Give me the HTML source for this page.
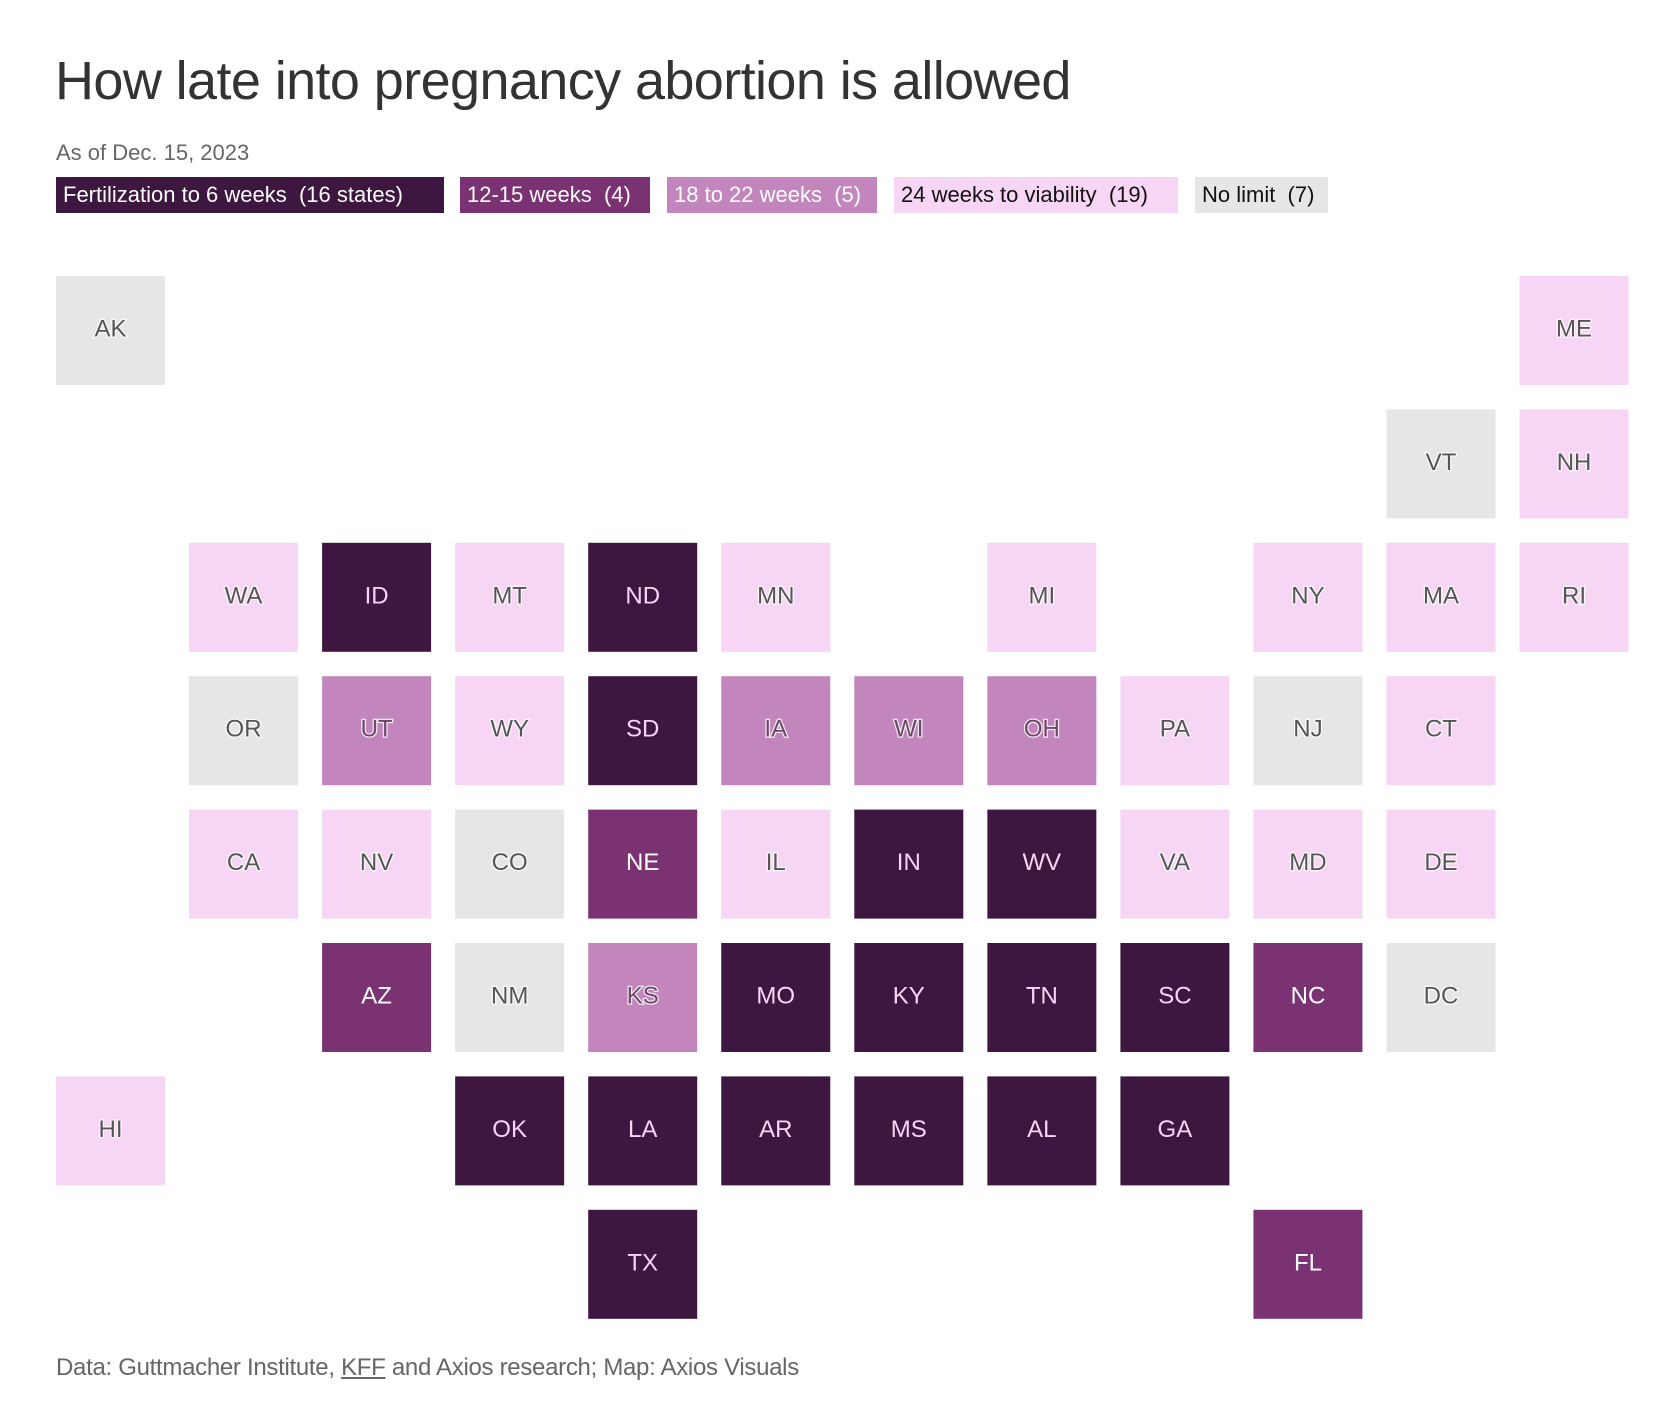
<!DOCTYPE html>
<html><head><meta charset="utf-8">
<style>
body{margin:0;background:#fff;width:1678px;height:1404px;overflow:hidden;font-family:"Liberation Sans",sans-serif;}
#title{position:absolute;left:55px;top:50px;font-size:54px;color:#333;letter-spacing:-0.6px;margin:0;font-weight:normal;}
#sub{position:absolute;left:56px;top:140px;font-size:22px;color:#666;}
.leg{position:absolute;top:177px;height:36px;line-height:36px;font-size:22px;padding:0 7px;box-sizing:border-box;white-space:nowrap;}
#foot{position:absolute;left:56px;top:1354px;font-size:24px;color:#666;letter-spacing:-0.3px;}
svg{position:absolute;left:0;top:0;}
</style></head><body>
<h1 id="title">How late into pregnancy abortion is allowed</h1>
<div id="sub">As of Dec. 15, 2023</div>
<div class="leg" style="left:56px;width:388px;background:#3d1740;color:#fff">Fertilization to 6 weeks&nbsp; (16 states)</div>
<div class="leg" style="left:460px;width:190px;background:#7a3272;color:#fff">12-15 weeks&nbsp; (4)</div>
<div class="leg" style="left:667px;width:210px;background:#c286bd;color:#fff">18 to 22 weeks&nbsp; (5)</div>
<div class="leg" style="left:894px;width:284px;background:#f7d6f5;color:#111">24 weeks to viability&nbsp; (19)</div>
<div class="leg" style="left:1195px;width:133px;background:#e6e6e8;color:#111">No limit&nbsp; (7)</div>
<svg id="map" width="1678" height="1404"></svg>
<div id="foot">Data: Guttmacher Institute, <span style="text-decoration:underline">KFF</span> and Axios research; Map: Axios Visuals</div>
<script>
const states=["AK","ME","VT","NH","WA","ID","MT","ND","MN","MI","NY","MA","RI","OR","UT","WY","SD","IA","WI","OH","PA","NJ","CT","CA","NV","CO","NE","IL","IN","WV","VA","MD","DE","AZ","NM","KS","MO","KY","TN","SC","NC","DC","HI","OK","LA","AR","MS","AL","GA","TX","FL"];
const cols=[0,11,10,11,1,2,3,4,5,7,9,10,11,1,2,3,4,5,6,7,8,9,10,1,2,3,4,5,6,7,8,9,10,2,3,4,5,6,7,8,9,10,0,3,4,5,6,7,8,4,9];
const rows=[0,0,1,1,2,2,2,2,2,2,2,2,2,3,3,3,3,3,3,3,3,3,3,4,4,4,4,4,4,4,4,4,4,5,5,5,5,5,5,5,5,5,6,6,6,6,6,6,6,7,7];
const category=[4,3,4,3,3,0,3,0,3,3,3,3,3,4,2,3,0,2,2,2,3,4,3,3,3,4,1,3,0,0,3,3,3,1,4,2,0,0,0,0,1,4,3,0,0,0,0,0,0,0,1];
const fills=["#3d1740","#7a3272","#c286bd","#f7d6f5","#e6e6e8"];
const txt=["#f7d6f5","#ffffff","#6b4a69","#555555","#555555"];
const x=c=>56+c*133.05, y=r=>276+r*133.4, S=109;
const svg=document.getElementById('map'),NS="http://www.w3.org/2000/svg";
states.forEach((s,i)=>{
 const r=document.createElementNS(NS,'rect');
 r.setAttribute('x',x(cols[i]));r.setAttribute('y',y(rows[i]));r.setAttribute('width',S);r.setAttribute('height',S);
 r.setAttribute('fill',fills[category[i]]);
 
 
 svg.appendChild(r);
 const t=document.createElementNS(NS,'text');
 t.setAttribute('x',x(cols[i])+S/2);t.setAttribute('y',y(rows[i])+S/2+6);
 t.setAttribute('text-anchor','middle');t.setAttribute('font-size','24');
 t.setAttribute('font-family','Liberation Sans, sans-serif');
 t.setAttribute('fill',txt[category[i]]);
 if(category[i]>=2){t.setAttribute('stroke','#ffffff');t.setAttribute('stroke-width','2.5');t.setAttribute('paint-order','stroke');t.setAttribute('stroke-opacity','0.8');}
 t.textContent=s;
 
 
 svg.appendChild(t);
});
</script>
</body></html>
